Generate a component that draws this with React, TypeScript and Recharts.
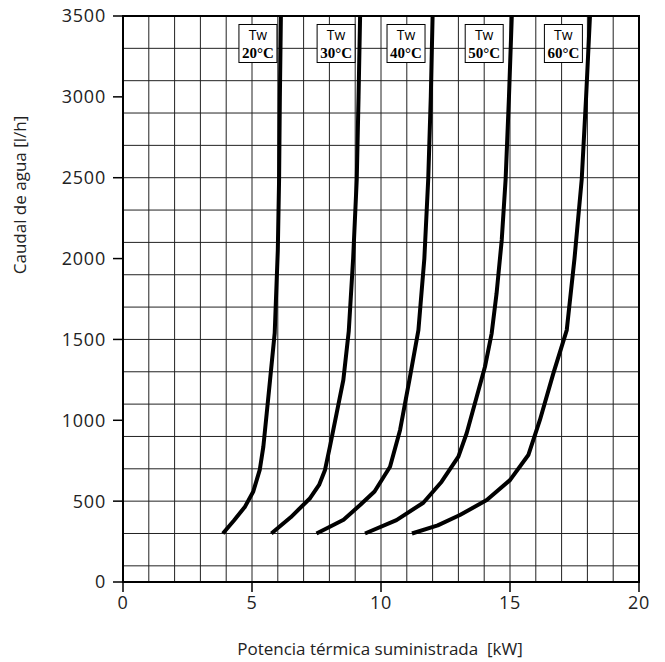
import React from "react";
import {
  LineChart, Line, XAxis, YAxis, CartesianGrid, ReferenceArea, ReferenceDot, Label,
} from "recharts";

// Tw curves: flow [l/h] vs thermal power [kW]
const flow20 = [300, 380, 466, 560, 693, 837, 1043, 1249, 1540, 2050, 2490, 3000, 3500];
const power20 = [3.87, 4.3, 4.73, 5.05, 5.3, 5.44, 5.57, 5.7, 5.88, 6.0, 6.05, 6.08, 6.12];

const flow30 = [300, 400, 518, 600, 693, 837, 1043, 1249, 1550, 2000, 2490, 3000, 3500];
const power30 = [5.75, 6.5, 7.25, 7.6, 7.83, 8.02, 8.28, 8.54, 8.75, 8.92, 9.06, 9.13, 9.19];

const flow40 = [300, 340, 385, 476, 560, 713, 940, 1249, 1558, 2000, 2490, 3000, 3500];
const power40 = [7.5, 8.0, 8.55, 9.19, 9.75, 10.35, 10.74, 11.1, 11.45, 11.68, 11.83, 11.93, 12.0];

const flow50 = [300, 383, 490, 620, 775, 920, 1146, 1331, 1538, 1785, 2115, 2490, 3000, 3500];
const power50 = [9.38, 10.6, 11.64, 12.35, 13.0, 13.32, 13.71, 14.03, 14.29, 14.48, 14.68, 14.83, 14.96, 15.07];

const flow60 = [300, 350, 414, 507, 630, 785, 1002, 1290, 1558, 2000, 2490, 3000, 3500];
const power60 = [11.2, 12.2, 13.06, 14.1, 15.0, 15.71, 16.16, 16.68, 17.2, 17.5, 17.78, 17.95, 18.1];

const labelTemps = ["20°C", "30°C", "40°C", "50°C", "60°C"];
const labelX = [5.23, 8.26, 10.97, 14.0, 17.07];
const labelY = 3330;

const xTicks = [0, 5, 10, 15, 20];
const yTicks = [0, 500, 1000, 1500, 2000, 2500, 3000, 3500];
const gridX = [0, 1, 2, 3, 4, 5, 6, 7, 8, 9, 10, 11, 12, 13, 14, 15, 16, 17, 18, 19, 20];
const gridY = [
  0, 100, 200, 300, 400, 500, 600, 700, 800, 900, 1000, 1100, 1200, 1300, 1400, 1500, 1600, 1700,
  1800, 1900, 2000, 2100, 2200, 2300, 2400, 2500, 2600, 2700, 2800, 2900, 3000, 3100, 3200, 3300, 3400, 3500,
];

const toPoints = (xs: number[], ys: number[]) => xs.map((x, i) => ({ x, y: ys[i] }));

const curves = [
  toPoints(power20, flow20),
  toPoints(power30, flow30),
  toPoints(power40, flow40),
  toPoints(power50, flow50),
  toPoints(power60, flow60),
];

const FONT = "'Open Sans', sans-serif";

const TempBox = ({ cx, cy, temp }: any) => (
  <g>
    <rect x={cx - 19} y={cy - 19} width={38} height={38} fill="#fff" stroke="#000" strokeWidth={1} />
    <text x={cx} y={cy - 3} textAnchor="middle" fontFamily={FONT} fontSize={14} fill="#000">Tw</text>
    <text x={cx} y={cy + 15} textAnchor="middle" fontFamily="'Liberation Serif', serif" fontWeight="bold" fontSize={15} fill="#000">{temp}</text>
  </g>
);

const tickStyle = { fontSize: 18, fill: "#222", fontFamily: FONT, letterSpacing: 0.8 };

export default function App() {
  return (
    <div style={{ position: "absolute", left: 0, top: 0, background: "#fff" }}>
      <LineChart width={665} height={662} margin={{ top: 16, right: 26, bottom: 50, left: 0 }}>
        <CartesianGrid stroke="#222" strokeWidth={1} verticalValues={gridX} horizontalValues={gridY} />
        <XAxis
          type="number" dataKey="x" domain={[0, 20]} ticks={xTicks} allowDataOverflow height={30}
          tick={tickStyle}
          tickSize={10} tickMargin={4}
          axisLine={{ stroke: "#000", strokeWidth: 2 }} tickLine={{ stroke: "#000", strokeWidth: 1.5 }}
        >
          <Label
            content={() => (
              <text x={380} y={655} textAnchor="middle" fontFamily={FONT} fontSize={17} fill="#222">
                Potencia térmica suministrada{"\u00a0\u00a0"}[kW]
              </text>
            )}
          />
        </XAxis>
        <YAxis
          type="number" dataKey="y" domain={[0, 3500]} ticks={yTicks} width={123} allowDataOverflow
          tick={tickStyle}
          tickSize={10} tickMargin={7}
          axisLine={{ stroke: "#000", strokeWidth: 2 }} tickLine={{ stroke: "#000", strokeWidth: 1.5 }}
        >
          <Label
            content={() => (
              <text x={26} y={195} textAnchor="middle" transform="rotate(-90 26 195)" fontFamily={FONT} fontSize={17} fill="#222">
                Caudal de agua [l/h]
              </text>
            )}
          />
        </YAxis>
        <ReferenceArea x1={0} x2={20} y1={0} y2={3500} fill="none" stroke="#000" strokeWidth={2} ifOverflow="visible" />
        {curves.map((d, i) => (
          <Line
            key={i} data={d} dataKey="y" type="linear" stroke="#000" strokeWidth={4}
            dot={false} activeDot={false} isAnimationActive={false} strokeLinejoin="round"
          />
        ))}
        {labelTemps.map((t, i) => (
          <ReferenceDot
            key={t} x={labelX[i]} y={labelY} ifOverflow="visible"
            shape={(p: any) => <TempBox cx={p.cx} cy={p.cy} temp={t} />}
          />
        ))}
      </LineChart>
    </div>
  );
}
